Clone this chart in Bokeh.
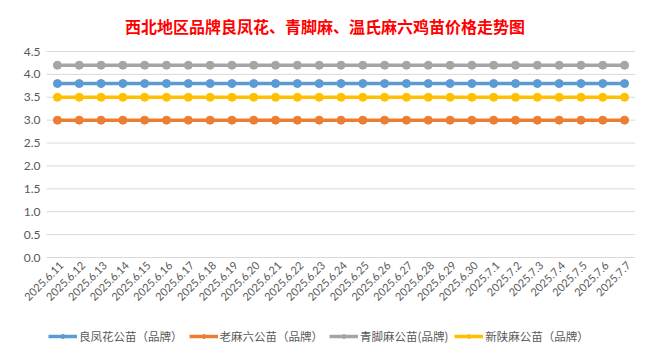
from bokeh.plotting import figure
from bokeh.models import Legend, LegendItem, Range1d, Title
from bokeh.core.properties import value
from bokeh.embed import file_html
from bokeh.resources import INLINE
import math

dates = ["2025.6.11", "2025.6.12", "2025.6.13", "2025.6.14", "2025.6.15", "2025.6.16",
         "2025.6.17", "2025.6.18", "2025.6.19", "2025.6.20", "2025.6.21", "2025.6.22",
         "2025.6.23", "2025.6.24", "2025.6.25", "2025.6.26", "2025.6.27", "2025.6.28",
         "2025.6.29", "2025.6.30", "2025.7.1", "2025.7.2", "2025.7.3", "2025.7.4",
         "2025.7.5", "2025.7.6", "2025.7.7"]
liangfenghua = [3.8] * 27
laomaliu = [3.0] * 27
qingjiaoma = [4.2] * 27
xinshanma = [3.5] * 27
y_ticks = [0, 0.5, 1, 1.5, 2, 2.5, 3, 3.5, 4, 4.5]
y_tick_labels = ["0.0", "0.5", "1.0", "1.5", "2.0", "2.5", "3.0", "3.5", "4.0", "4.5"]

names = ["良凤花公苗（品牌）", "老麻六公苗（品牌）", "青脚麻公苗(品牌)", "新陕麻公苗（品牌）"]
colors = ["#5B9BD5", "#ED7D31", "#A5A5A5", "#FFC000"]
series = [liangfenghua, laomaliu, qingjiaoma, xinshanma]

FONT = "Noto Sans CJK SC"
LATIN = "Lato"

n = len(dates)
xs = list(range(n))

# plot frame: category slots of ~21.8 px; extra room on the left for the rotated labels
frame_left, frame_right = 14, 635
slot = (frame_right - 46) / n
x_start = -0.5 - (46 - frame_left) / slot
x_end = n - 0.5
px_per_unit = 206 / 4.5
ymax = 4.5 + 5 / px_per_unit
ymin = -100 / px_per_unit

p = figure(width=652, height=357, x_range=Range1d(x_start, x_end), y_range=Range1d(ymin, ymax),
           output_backend="svg", toolbar_location=None,
           min_border_left=frame_left, min_border_right=652 - frame_right,
           min_border_top=46, min_border_bottom=0)
p.title = Title(text="西北地区品牌良凤花、青脚麻、温氏麻六鸡苗价格走势图", align="center",
                text_color="#FF0000", text_font=FONT, text_font_size="16px", text_font_style="bold",
                offset=0, standoff=17)
p.outline_line_color = None
p.background_fill_color = "white"
p.border_fill_color = "white"
p.xaxis.visible = False
p.yaxis.visible = False
p.xgrid.grid_line_color = None
p.ygrid.grid_line_color = None

# horizontal gridlines over the category area
p.segment(x0=[-0.5] * len(y_ticks), x1=[n - 0.5] * len(y_ticks), y0=y_ticks, y1=y_ticks,
          line_color="#D9D9D9", line_width=1)
# y tick labels
p.text(x=[-0.5] * len(y_ticks), y=y_ticks, text=y_tick_labels, x_offset=-6,
       text_align="right", text_baseline="middle",
       text_font=value(LATIN), text_font_size="12px", text_color="#595959")

items = []
for name, col, vals in zip(names, colors, series):
    r1 = p.line(xs, vals, line_color=col, line_width=3.5)
    r2 = p.scatter(xs, vals, size=8, fill_color=col, line_color=col, marker="circle")
    items.append(LegendItem(label=name, renderers=[r1, r2]))

# date labels under the 0 line
p.text(x=xs, y=[0] * n, text=dates, angle=math.pi / 4,
       text_align="right", text_baseline="middle", x_offset=4, y_offset=6,
       text_font=value(LATIN), text_font_size="11px", text_color="#595959")

legend = Legend(items=items, orientation="horizontal", location=(34, 13),
                label_text_font=FONT, label_text_font_size="11.5px", label_text_color="#595959",
                glyph_width=29, glyph_height=10, spacing=6, label_standoff=2,
                border_line_color=None, background_fill_alpha=0, padding=2, margin=0)
p.add_layout(legend, "center")

open("out.html", "w").write(file_html(p, INLINE))
